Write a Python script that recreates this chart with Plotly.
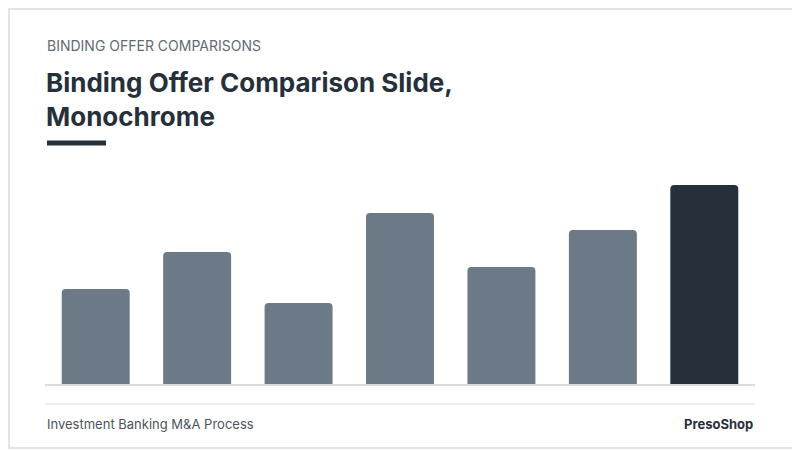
import plotly.graph_objects as go

categories = ["A", "B", "C", "D", "E", "F", "G"]
values = [96, 133, 82, 172, 118, 155, 200]
colors = ["#6b7a86"] * 6 + ["#25303a"]

OFF = 8  # page body margin
FW, FH = 800 - OFF, 450 - OFF
L, R, T, B = 45 - OFF, 45, 185 - OFF, 65
W, H = FW - L - R, FH - T - B
def px(x): return (x - OFF - L) / W
def py(y): return (385 - y) / H

fig = go.Figure(go.Bar(x=categories, y=values, marker=dict(color=colors, cornerradius=4, line=dict(width=0)), width=0.67))
font = "Inter, Open Sans, sans-serif"
ann = [
    dict(text="BINDING OFFER COMPARISONS", x=px(45), y=py(45), font=dict(size=14, color="#5f6b75", family=font)),
    dict(text="<b>Binding Offer Comparison Slide,</b>", x=px(44), y=py(82), font=dict(size=26, color="#25303a", family=font)),
    dict(text="<b>Monochrome</b>", x=px(44), y=py(116), font=dict(size=26, color="#25303a", family=font)),
    dict(text="Investment Banking M&A Process", x=px(45), y=py(424), font=dict(size=13, color="#4a5560", family=font)),
]
annotations = [dict(a, xref="paper", yref="paper", xanchor="left", yanchor="middle", showarrow=False) for a in ann]
annotations.append(dict(text="<b>PresoShop</b>", x=px(755), y=py(424), xref="paper", yref="paper", xanchor="right",
                        yanchor="middle", showarrow=False, font=dict(size=13, color="#25303a", family=font)))
shapes = [
    dict(type="line", xref="paper", yref="paper", x0=px(45), x1=px(755), y0=py(385), y1=py(385), line=dict(color="#d8dcdf", width=2)),
    dict(type="line", xref="paper", yref="paper", x0=px(45), x1=px(755), y0=py(404), y1=py(404), line=dict(color="#d8dcdf", width=1)),
    dict(type="line", xref="paper", yref="paper", x0=px(47), x1=px(106), y0=py(143), y1=py(143), line=dict(color="#25303a", width=5)),
    dict(type="rect", xref="paper", yref="paper", x0=px(OFF + 1), x1=px(798), y0=py(OFF + 1), y1=py(448), line=dict(color="#e2e5e8", width=2)),
]
fig.update_layout(
    width=FW, height=FH, margin=dict(l=L, r=R, t=T, b=B),
    paper_bgcolor="white", plot_bgcolor="white", showlegend=False,
    xaxis=dict(visible=False, range=[-0.5, 6.5]),
    yaxis=dict(visible=False, range=[0, 200]),
    annotations=annotations, shapes=shapes, bargap=0.33,
)
fig.write_html("out.html")
